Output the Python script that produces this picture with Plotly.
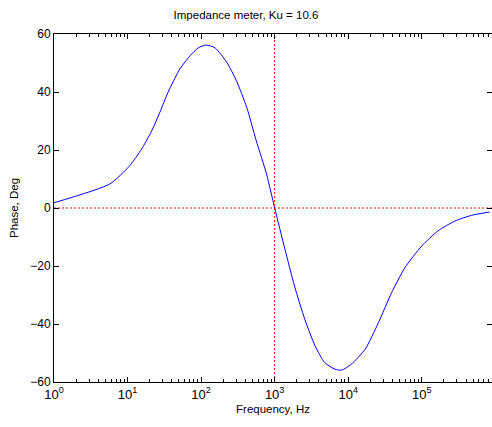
import plotly.graph_objects as go

# frequency (Hz) and phase (deg)
freq = [1, 5.75, 10.7, 15.5, 21.4, 27.5, 35.5, 51.3, 70.8, 91.2, 117, 155, 224,
        302, 417, 562, 776, 1000, 1380, 1860, 2570, 3550, 4790, 6610, 8130,
        11000, 17000, 25700, 38900, 58900, 100000, 166000, 282000, 479000, 832000]
phase = [1.8, 8.3, 14.6, 20.3, 26.7, 33.0, 39.9, 47.9, 52.5, 55.2, 56.2, 55.2, 50.2,
         43.9, 34.7, 23.2, 11.7, 0.0, -14.2, -26.9, -38.4, -47.6, -53.3, -55.6, -55.9,
         -53.9, -48.7, -39.6, -29.2, -20.6, -13.1, -7.9, -4.5, -2.5, -1.4]

x_max = 10 ** 5.955
ref_freq = 1000
major_vals = [10 ** k for k in range(6)]
major_text = ["10<sup>%d</sup>" % k for k in range(6)]
minor_vals = [m * 10 ** k for k in range(6) for m in range(2, 10)]

fnt = "Liberation Sans, Arial, sans-serif"

fig = go.Figure()
fig.add_trace(go.Scatter(x=freq, y=phase, mode="lines",
                         line=dict(color="#0000ff", width=1, shape="spline", smoothing=0.6)))
fig.add_trace(go.Scatter(x=[ref_freq, ref_freq], y=[-60, 60], mode="lines",
                         line=dict(color="#ff0000", width=1, dash="2px,2px")))
fig.add_trace(go.Scatter(x=[1, x_max], y=[0, 0], mode="lines",
                         line=dict(color="#ff0000", width=1, dash="2px,2px")))

fig.update_layout(
    width=492, height=427,
    margin=dict(l=54, r=0, t=34, b=45),
    paper_bgcolor="white", plot_bgcolor="white",
    showlegend=False,
    font=dict(family=fnt, size=12, color="black"),
    title=dict(text="Impedance meter, Ku = 10.6", x=0.5, xanchor="center",
               y=0.965, yanchor="middle", font=dict(size=11.5)),
)
fig.update_xaxes(
    type="log", range=[0, 5.955],
    tickmode="array", tickvals=major_vals, ticktext=major_text,
    ticks="inside", ticklen=5, tickcolor="black",
    minor=dict(tickmode="array", tickvals=minor_vals, ticks="inside",
               ticklen=3, tickcolor="black", showgrid=False),
    showline=True, linecolor="black", linewidth=1, mirror="allticks",
    showgrid=False, zeroline=False, automargin=False,
    tickfont=dict(size=13),
    title=dict(text="Frequency, Hz", font=dict(size=11.5), standoff=4),
)
fig.update_yaxes(
    range=[-60, 60], tickvals=[-60, -40, -20, 0, 20, 40, 60],
    ticks="inside", ticklen=5, tickcolor="black",
    showline=True, linecolor="black", linewidth=1, mirror="allticks",
    showgrid=False, zeroline=False, automargin=False,
    tickfont=dict(size=12),
    title=dict(text="Phase, Deg", font=dict(size=11.5), standoff=9),
)

# drop the default 8px page margin so the figure sits at the window corner
fig.write_html("out.html", config={"displayModeBar": False},
               post_script="document.body.style.margin='0';document.body.style.overflow='hidden';")
